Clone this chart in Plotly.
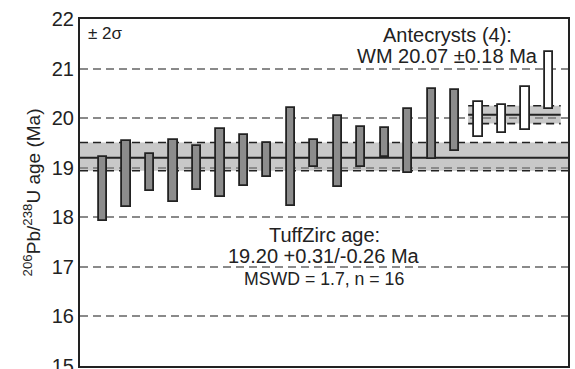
import plotly.graph_objects as go

# Data
grain_idx = list(range(1, 21))
age_low = [17.93, 18.21, 18.54, 18.30, 18.55, 18.41, 18.64, 18.82, 18.23, 19.02,
           18.61, 19.01, 19.21, 18.89, 19.18, 19.33,
           19.61, 19.71, 19.76, 20.19]
age_high = [19.22, 19.54, 19.27, 19.56, 19.44, 19.78, 19.67, 19.49, 20.21, 19.56,
            20.04, 19.83, 19.80, 20.19, 20.58, 20.56,
            20.32, 20.26, 20.63, 21.33]
is_antecryst = [False] * 16 + [True] * 4

tuff_age = 19.20
tuff_plus = 0.31
tuff_minus = 0.26
wm_age = 20.07
wm_err = 0.18

y_ticks = [15, 16, 17, 18, 19, 20, 21, 22]

X_MIN, X_MAX = 0.03, 20.8
ANT_X0, ANT_X1 = 16.55, 20.49

BAR_GRAY = "#8c8c8c"
BAND_GRAY = "#c8c8c8"
INK = "#222222"

fig = go.Figure()

fig.add_trace(go.Bar(
    x=grain_idx,
    y=[h - l for h, l in zip(age_high, age_low)],
    base=age_low,
    width=0.36,
    marker=dict(color=["white" if a else BAR_GRAY for a in is_antecryst],
                line=dict(color=INK, width=1.8)),
    showlegend=False,
    hoverinfo="skip",
))

shapes = []
# main TuffZirc band
shapes.append(dict(type="rect", xref="x", yref="y", x0=X_MIN, x1=X_MAX,
                   y0=tuff_age - tuff_minus, y1=tuff_age + tuff_plus,
                   fillcolor=BAND_GRAY, line=dict(width=0), layer="below"))
for yv in (tuff_age - tuff_minus, tuff_age + tuff_plus):
    shapes.append(dict(type="line", xref="x", yref="y", x0=X_MIN, x1=X_MAX, y0=yv, y1=yv,
                       line=dict(color=INK, width=1.6, dash="8px,5px"), layer="below"))
shapes.append(dict(type="line", xref="x", yref="y", x0=X_MIN, x1=X_MAX, y0=tuff_age, y1=tuff_age,
                   line=dict(color=INK, width=2), layer="below"))
# antecryst band
shapes.append(dict(type="rect", xref="x", yref="y", x0=ANT_X0, x1=ANT_X1,
                   y0=wm_age - wm_err, y1=wm_age + wm_err,
                   fillcolor=BAND_GRAY, line=dict(width=0), layer="below"))
for yv in (wm_age - wm_err, wm_age + wm_err):
    shapes.append(dict(type="line", xref="x", yref="y", x0=ANT_X0, x1=ANT_X1, y0=yv, y1=yv,
                       line=dict(color=INK, width=1.6, dash="8px,5px"), layer="below"))
shapes.append(dict(type="line", xref="x", yref="y", x0=ANT_X0, x1=ANT_X1, y0=wm_age, y1=wm_age,
                   line=dict(color=INK, width=2), layer="below"))

FONT = "Liberation Sans, Arial, sans-serif"
annotations = [
    dict(x=X_MIN + 0.25, y=21.7, xref="x", yref="y", text="± 2σ", showarrow=False,
         xanchor="left", yanchor="middle", font=dict(size=17, color=INK, family=FONT)),
    dict(x=15.65, y=21.67, xref="x", yref="y", text="Antecrysts (4):", showarrow=False,
         xanchor="center", yanchor="middle", font=dict(size=20, color=INK, family=FONT)),
    dict(x=15.65, y=21.26, xref="x", yref="y",
         text=f"WM {wm_age:.2f} ±{wm_err:.2f} Ma", showarrow=False,
         xanchor="center", yanchor="middle", font=dict(size=20, color=INK, family=FONT)),
    dict(x=10.42, y=17.65, xref="x", yref="y", text="TuffZirc age:", showarrow=False,
         xanchor="center", yanchor="middle", font=dict(size=20, color=INK, family=FONT)),
    dict(x=10.42, y=17.21, xref="x", yref="y",
         text=f"{tuff_age:.2f} +{tuff_plus:.2f}/-{tuff_minus:.2f} Ma", showarrow=False,
         xanchor="center", yanchor="middle", font=dict(size=20, color=INK, family=FONT)),
    dict(x=10.42, y=16.75, xref="x", yref="y", text="MSWD = 1.7, n = 16", showarrow=False,
         xanchor="center", yanchor="middle", font=dict(size=17.7, color=INK, family=FONT)),
]

fig.update_layout(
    width=575, height=369,
    margin=dict(l=80, r=7, t=19, b=3),
    paper_bgcolor="white", plot_bgcolor="white",
    shapes=shapes, annotations=annotations,
    font=dict(family=FONT, color=INK),
    bargap=0,
)
fig.update_xaxes(range=[X_MIN, X_MAX], showticklabels=False, ticks="", showgrid=False,
                 automargin=False,
                 zeroline=False, showline=True, mirror=True, linecolor=INK, linewidth=2)
fig.update_yaxes(range=[15, 22], tickvals=y_ticks, ticktext=[str(v) for v in y_ticks],
                 ticks="", tickfont=dict(size=20, color=INK, family=FONT),
                 ticklabeloverflow="allow", automargin=False,
                 showgrid=True, gridcolor="#8a8a8a", gridwidth=1.5, griddash="8px,5px",
                 zeroline=False, showline=True, mirror=True, linecolor=INK, linewidth=2,
                 title=dict(text="<sup>206</sup>Pb/<sup>238</sup>U age (Ma)",
                            font=dict(size=19, color=INK, family=FONT), standoff=6))

fig.write_html("out.html")
